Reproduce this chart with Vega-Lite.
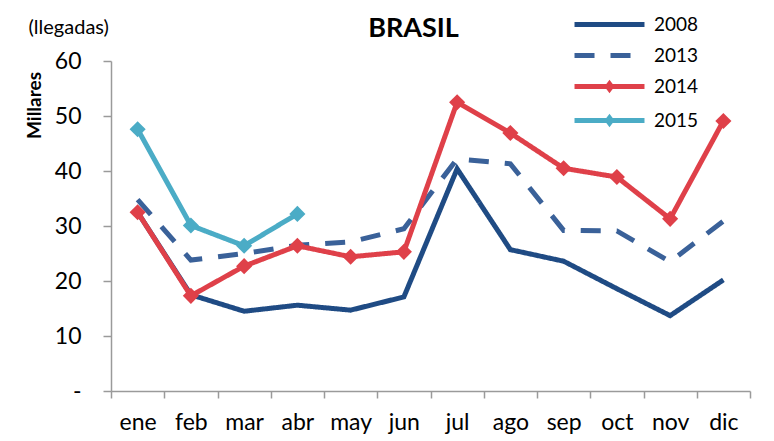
{
  "$schema": "https://vega.github.io/schema/vega-lite/v6.json",
  "autosize": "none",
  "width": 639,
  "height": 330,
  "padding": {"left": 111, "top": 61, "right": 24, "bottom": 50},
  "background": "white",
  "config": {
    "font": "Lato",
    "view": {"stroke": null},
    "axis": {"domainColor": "#9a9a9a", "tickColor": "#9a9a9a", "domainWidth": 1.5, "tickWidth": 1.5, "grid": false, "labelColor": "black", "labelFont": "Lato"}
  },
  "title": {
    "text": "BRASIL",
    "fontSize": 27,
    "fontWeight": "bold",
    "font": "Lato",
    "color": "black",
    "anchor": "middle",
    "dx": -17,
    "offset": -33
  },
  "data": {
    "values": [
      {"month": "ene", "year": "2008", "value": 32.5},
      {"month": "feb", "year": "2008", "value": 17.5},
      {"month": "mar", "year": "2008", "value": 14.5},
      {"month": "abr", "year": "2008", "value": 15.6},
      {"month": "may", "year": "2008", "value": 14.7},
      {"month": "jun", "year": "2008", "value": 17.1},
      {"month": "jul", "year": "2008", "value": 40.4},
      {"month": "ago", "year": "2008", "value": 25.7},
      {"month": "sep", "year": "2008", "value": 23.6},
      {"month": "oct", "year": "2008", "value": 18.6},
      {"month": "nov", "year": "2008", "value": 13.7},
      {"month": "dic", "year": "2008", "value": 20.2},
      {"month": "ene", "year": "2013", "value": 34.8},
      {"month": "feb", "year": "2013", "value": 23.8},
      {"month": "mar", "year": "2013", "value": 25.0},
      {"month": "abr", "year": "2013", "value": 26.5},
      {"month": "may", "year": "2013", "value": 27.1},
      {"month": "jun", "year": "2013", "value": 29.5},
      {"month": "jul", "year": "2013", "value": 42.2},
      {"month": "ago", "year": "2013", "value": 41.3},
      {"month": "sep", "year": "2013", "value": 29.2},
      {"month": "oct", "year": "2013", "value": 29.1},
      {"month": "nov", "year": "2013", "value": 23.5},
      {"month": "dic", "year": "2013", "value": 30.9},
      {"month": "ene", "year": "2014", "value": 32.5},
      {"month": "feb", "year": "2014", "value": 17.3},
      {"month": "mar", "year": "2014", "value": 22.7},
      {"month": "abr", "year": "2014", "value": 26.4},
      {"month": "may", "year": "2014", "value": 24.4},
      {"month": "jun", "year": "2014", "value": 25.3},
      {"month": "jul", "year": "2014", "value": 52.5},
      {"month": "ago", "year": "2014", "value": 46.9},
      {"month": "sep", "year": "2014", "value": 40.5},
      {"month": "oct", "year": "2014", "value": 38.9},
      {"month": "nov", "year": "2014", "value": 31.3},
      {"month": "dic", "year": "2014", "value": 49.1},
      {"month": "ene", "year": "2015", "value": 47.6},
      {"month": "feb", "year": "2015", "value": 30.1},
      {"month": "mar", "year": "2015", "value": 26.4},
      {"month": "abr", "year": "2015", "value": 32.2}
    ]
  },
  "encoding": {
    "x": {
      "field": "month",
      "type": "nominal",
      "sort": ["ene", "feb", "mar", "abr", "may", "jun", "jul", "ago", "sep", "oct", "nov", "dic"],
      "bandPosition": 0.5,
      "scale": {"type": "band", "paddingInner": 0, "paddingOuter": 0},
      "axis": {
        "title": "(llegadas)",
        "titleFontSize": 20,
        "titleFontWeight": "normal",
        "titleColor": "black",
        "titleX": -83,
        "titleY": -364,
        "titleAlign": "left",
        "titleBaseline": "middle",
        "titleAnchor": null,
        "labelAngle": 0,
        "labelFontSize": 23,
        "labelPadding": 13,
        "tickSize": 7,
        "tickBand": "extent"
      }
    },
    "y": {
      "field": "value",
      "type": "quantitative",
      "scale": {"domain": [0, 60], "nice": false},
      "axis": {
        "title": "Millares",
        "titleFontSize": 19,
        "titleFontWeight": "bold",
        "titleColor": "black",
        "titleAngle": -90,
        "titleX": -77,
        "titleY": 44,
        "titleAlign": "center",
        "titleBaseline": "middle",
        "values": [0, 10, 20, 30, 40, 50, 60],
        "labelExpr": "datum.value == 0 ? '-' : datum.label",
        "labelFontSize": 23,
        "labelPadding": 22,
        "tickSize": 8
      }
    }
  },
  "layer": [
    {
      "mark": {"type": "line", "strokeWidth": 5, "strokeCap": "butt", "strokeJoin": "miter"},
      "encoding": {
        "color": {
          "field": "year",
          "type": "nominal",
          "scale": {"domain": ["2008", "2013", "2014", "2015"], "range": ["#1f4b84", "#3a6199", "#df4049", "#4bacc6"]},
          "legend": {
            "title": null,
            "orient": "none",
            "legendX": 484,
            "legendY": -51,
            "padding": 0,
            "symbolSize": 544,
            "symbolStrokeWidth": 5,
            "labelFontSize": 19,
            "labelColor": "black",
            "labelOffset": 30,
            "rowPadding": 6,
            "encode": {
              "symbols": {
                "update": {
                  "shape": {"signal": "datum.value == '2014' || datum.value == '2015' ? 'M-3,0L3,0M0,-0.22L0.16,0L0,0.22L-0.16,0Z' : 'M-3,0L3,0'"}
                }
              }
            }
          }
        },
        "strokeDash": {
          "field": "year",
          "type": "nominal",
          "scale": {"domain": ["2008", "2013", "2014", "2015"], "range": [[1, 0], [20, 16], [1, 0], [1, 0]]},
          "legend": {"title": null}
        }
      }
    },
    {
      "transform": [{"filter": "datum.year == '2014' || datum.year == '2015'"}],
      "mark": {"type": "point", "shape": "diamond", "filled": true, "size": 260, "opacity": 1},
      "encoding": {
        "fill": {
          "field": "year",
          "type": "nominal",
          "scale": {"domain": ["2014", "2015"], "range": ["#df4049", "#4bacc6"]},
          "legend": null
        }
      }
    }
  ]
}
